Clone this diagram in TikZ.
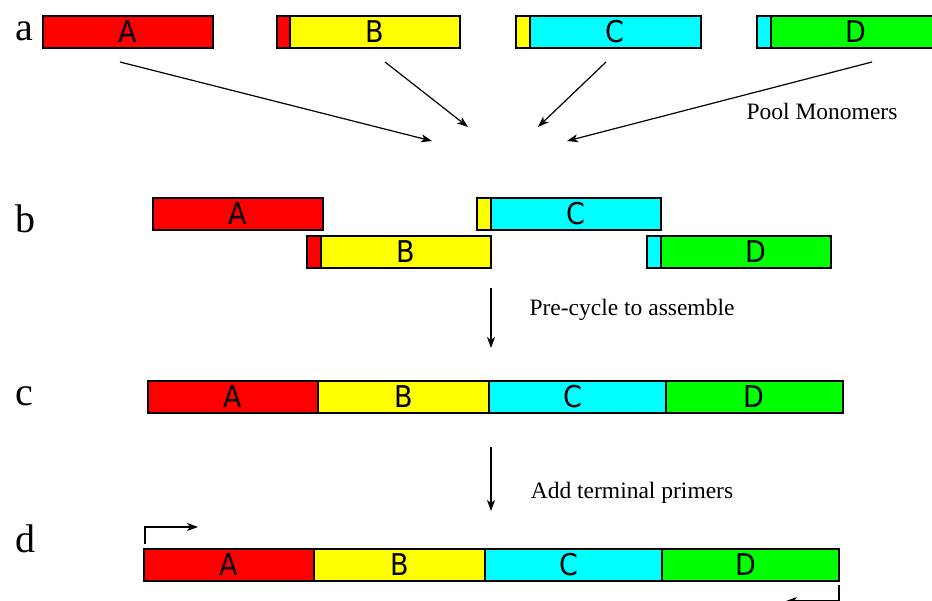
\documentclass[tikz,border=0pt]{standalone}
\usepackage{fontspec}
\setmainfont{Liberation Serif}
\newfontfamily\segfont{DejaVu Sans Condensed}
\usetikzlibrary{arrows.meta}
\definecolor{segred}{RGB}{255,0,0}
\definecolor{segyellow}{RGB}{255,255,0}
\definecolor{segcyan}{RGB}{0,255,255}
\definecolor{seggreen}{RGB}{0,255,0}
\begin{document}
\begin{tikzpicture}[x=1pt,y=-1pt,
  seg/.style={draw=black, line width=1.7pt, minimum height=32pt, inner sep=0pt,
    anchor=north west, font=\segfont\fontsize{30}{30}\selectfont},
  rowlbl/.style={anchor=base, inner sep=0pt, font=\fontsize{40}{40}\selectfont},
  note/.style={anchor=base, inner sep=0pt, font=\fontsize{23.5}{24}\selectfont},
  arr/.style={draw=black, line width=1.2pt, -{Stealth[length=11pt,width=8pt,inset=3pt]}}
]
\useasboundingbox (0,0) rectangle (932,600);
\clip (0,0) rectangle (932,600);

% row labels
\node[rowlbl] (la) at (24,40) {a};
\node[rowlbl] (lb) at (25,232) {b};
\node[rowlbl] (lc) at (24,405) {c};
\node[rowlbl] (ld) at (25,552) {d};

% a: separate monomers with overlapping ends
\node[seg, fill=segred, minimum width=170pt] (aA) at (42,15) {A};
\node[seg, fill=segred, minimum width=13pt] (aBs) at (276,15) {};
\node[seg, fill=segyellow, minimum width=170pt] (aB) at (289,15) {B};
\node[seg, fill=segyellow, minimum width=14pt] (aCs) at (515,15) {};
\node[seg, fill=segcyan, minimum width=171pt] (aC) at (529,15) {C};
\node[seg, fill=segcyan, minimum width=14pt] (aDs) at (756,15) {};
\node[seg, fill=seggreen, minimum width=170pt] (aD) at (770,15) {D};

% pooling arrows
\coordinate (sA) at (120,62);  \coordinate (tA) at (432,141);
\coordinate (sB) at (385,62);  \coordinate (tB) at (468,127);
\coordinate (sC) at (606,62);  \coordinate (tC) at (538,127);
\coordinate (sD) at (872,62);  \coordinate (tD) at (567,141);
\draw[arr] (sA) -- (tA);
\draw[arr] (sB) -- (tB);
\draw[arr] (sC) -- (tC);
\draw[arr] (sD) -- (tD);
\node[note] (pool) at (822,119) {Pool Monomers};

% b: monomers annealed on their overlaps
\node[seg, fill=segred, minimum width=170pt] (bA) at (152,197) {A};
\node[seg, fill=segyellow, minimum width=14pt] (bCs) at (476,197) {};
\node[seg, fill=segcyan, minimum width=170pt] (bC) at (490,197) {C};
\node[seg, fill=segred, minimum width=14pt] (bBs) at (306,235) {};
\node[seg, fill=segyellow, minimum width=170pt] (bB) at (320,235) {B};
\node[seg, fill=segcyan, minimum width=14pt] (bDs) at (646,235) {};
\node[seg, fill=seggreen, minimum width=170pt] (bD) at (660,235) {\hspace*{20pt}D};

\coordinate (s1) at (491,288); \coordinate (t1) at (491,348);
\draw[arr] (s1) -- (t1);
\node[note] (pre) at (632,315) {Pre-cycle to assemble};

% c: assembled product
\node[seg, fill=segred, minimum width=170pt] (cA) at (147,380) {A};
\node[seg, fill=segyellow, minimum width=171pt] (cB) at (317,380) {B};
\node[seg, fill=segcyan, minimum width=177pt] (cC) at (488,380) {C\hspace*{8pt}};
\node[seg, fill=seggreen, minimum width=177pt] (cD) at (665,380) {D};

\coordinate (s2) at (491,447); \coordinate (t2) at (491,511);
\draw[arr] (s2) -- (t2);
\node[note] (add) at (632,498) {Add terminal primers};

% d: product with terminal primers
\node[seg, fill=segred, minimum width=170pt] (dA) at (143,548) {A};
\node[seg, fill=segyellow, minimum width=171pt] (dB) at (313,548) {B};
\node[seg, fill=segcyan, minimum width=177pt] (dC) at (484,548) {C\hspace*{8pt}};
\node[seg, fill=seggreen, minimum width=177pt] (dD) at (661,548) {D\hspace*{8pt}};

\coordinate (fp0) at (145,544); \coordinate (fp1) at (198,527);
\coordinate (rp0) at (839,585); \coordinate (rp1) at (786,601);
\draw[arr] (fp0) |- (fp1);
\draw[arr] (rp0) |- (rp1);
\end{tikzpicture}
\end{document}
